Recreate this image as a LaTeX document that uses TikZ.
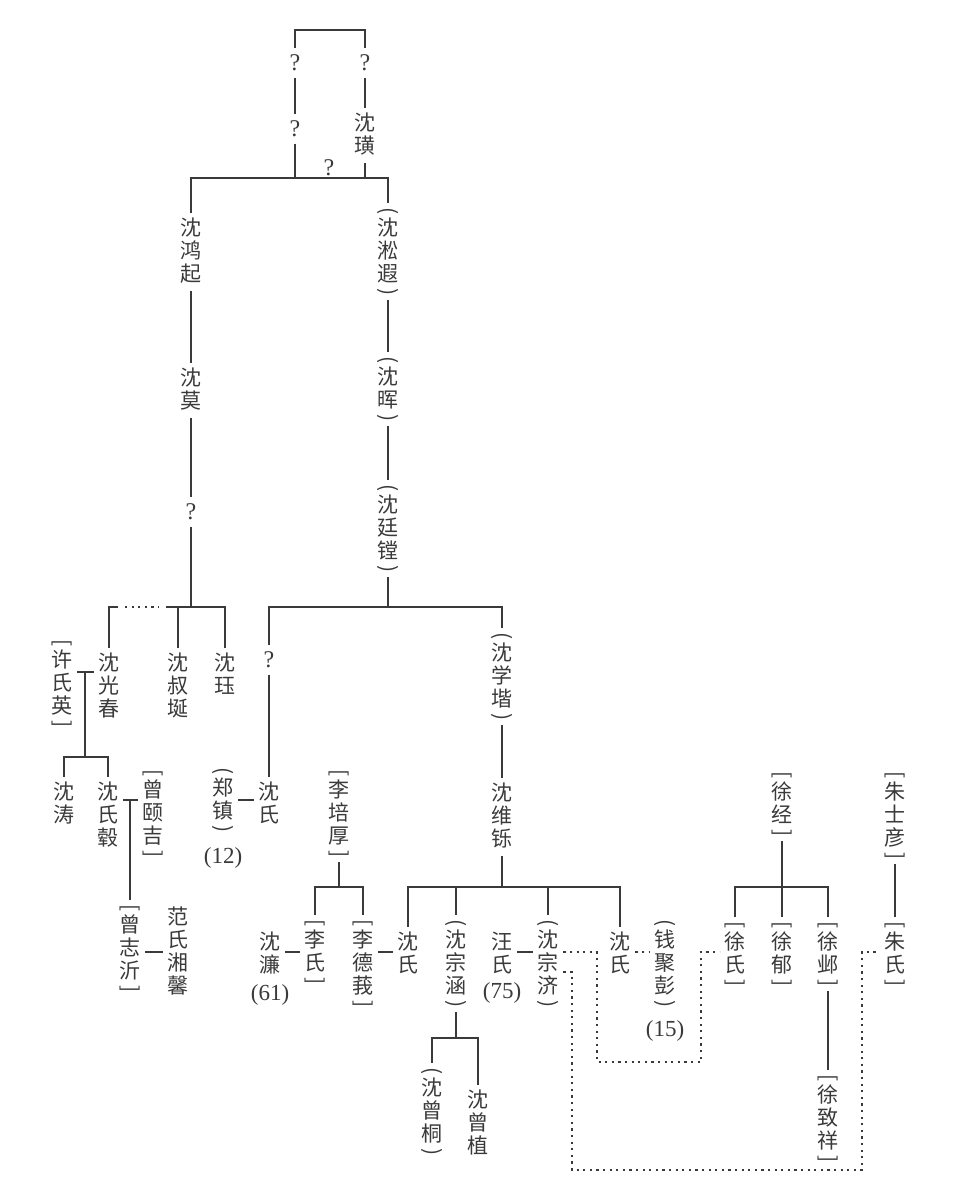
\documentclass[tikz,border=0pt]{standalone}
\usepackage{fontspec}
\setmainfont{Liberation Serif}
\newfontfamily\cjk{Noto Sans CJK SC}
\usetikzlibrary{positioning}
\definecolor{ink}{RGB}{58,58,58}
% vertical names: one box per character
\newcommand\vc[1]{\hbox to 11pt{\hss\vrule height 9pt depth 2.5pt width 0pt\relax#1\hss}}
\def\vloop#1{\ifx#1\relax\else\vc{#1}\expandafter\vloop\fi}
\newcommand\vmark[1]{\hbox to 11pt{\hss\rotatebox{-90}{#1}\hss}}
\newcommand\vname[1]{\vbox{\offinterlineskip\vloop#1\relax}}
\newcommand\pname[1]{\vbox{\offinterlineskip\vmark{(}\kern1.5pt\vloop#1\relax\kern1pt\vmark{)}}}
\newcommand\bname[1]{\vbox{\offinterlineskip\vmark{[}\kern1.5pt\vloop#1\relax\kern1pt\vmark{]}}}
\tikzset{
  person/.style={anchor=north, inner sep=2pt, text=ink, font=\cjk\fontsize{10.5}{11.5}\selectfont},
  qm/.style={inner sep=3pt, text=ink, font=\fontsize{12}{13}\selectfont},
  num/.style={inner sep=1pt, text=ink, font=\fontsize{11.5}{12}\selectfont},
  link/.style={draw=ink, line width=0.75pt},
  dots/.style={draw=ink, line width=1.1pt, dash pattern=on 1.1pt off 2.2pt}
}
\begin{document}
\begin{tikzpicture}[x=0.5pt, y=-0.5pt]
    \useasboundingbox (0,0) rectangle (968,1197);
    % top generations
    \node[qm] (qa) at (295,63) {?};
    \node[qm] (qb) at (295,129) {?};
    \node[qm] (qc) at (365,63) {?};
    \node[person] (huang) at (365,108) {\vname{沈璜}};
    \node[qm] (qd) at (329,168) {?};
    \coordinate (apex) at (330,30);
    \coordinate (bar1) at (290,178);
    \path[link] (qa.north) |- (apex) -| (qc.north);
    \path[link] (qa) -- (qb) (qc) -- (huang);
    \node[person] (hongqi) at (191,213) {\vname{沈鸿起}};
    \node[person] (songxia) at (388,203) {\pname{沈淞遐}};
    \path[link] (hongqi.north) |- (bar1) -| (songxia.north);
    \path[link] (qb.south) -- (qb.south |- bar1)
          (huang.south) -- (huang.south |- bar1);

    % left line
    \node[person] (mo) at (191,363) {\vname{沈莫}};
    \node[qm] (qe) at (191,512) {?};
    \path[link] (hongqi) -- (mo) (mo) -- (qe);
    \coordinate (b2l) at (109,607);
    \coordinate (b2r) at (225,607);
    \node[person] (guangchun) at (109,648) {\vname{沈光春}};
    \node[person] (shuyan) at (178,648) {\vname{沈叔埏}};
    \node[person] (jue) at (225,648) {\vname{沈珏}};
    \path[link] (qe.south) -- (qe.south |- b2r)
          (guangchun.north) -- (b2l) -- ([xshift=4.5pt]b2l)
          ([xshift=28.5pt]b2l) -- (b2r) -- (jue.north)
          (shuyan.north) -- (shuyan.north |- b2r);
    \path[dots] ([xshift=8pt]b2l) -- ([xshift=25pt]b2l);
    \node[person] (xushiying) at (62,635) {\bname{许氏英}};
    \coordinate (wed1) at (85,672);
    \coordinate (bar3) at (85,757);
    \path[link] (xushiying.east |- wed1) -- (guangchun.west |- wed1)
          (wed1) -- (bar3);
    \node[person] (tao) at (64,777) {\vname{沈涛}};
    \node[person] (shigu) at (108,777) {\vname{沈氏毂}};
    \path[link] (tao.north) |- (bar3) -| (shigu.north);
    \node[person] (yiji) at (153,765) {\bname{曾颐吉}};
    \coordinate (wed2) at (130,800);
    \node[person] (zhiyi) at (130,900) {\bname{曾志沂}};
    \node[person] (xiangxin) at (178,902) {\vname{范氏湘馨}};
    \coordinate (wed3) at (130,952);
    \path[link] (shigu.east |- wed2) -- (yiji.west |- wed2)
          (wed2) -- (zhiyi.north)
          (zhiyi.east |- wed3) -- (xiangxin.west |- wed3);

    % right line
    \node[person] (hui) at (388,352) {\pname{沈晖}};
    \node[person] (tinghuang) at (388,480) {\pname{沈廷镗}};
    \path[link] (songxia) -- (hui) (hui) -- (tinghuang);
    \coordinate (bar4) at (388,607);
    \node[qm] (qf) at (269,660) {?};
    \node[person] (xuejie) at (502,628) {\pname{沈学堦}};
    \path[link] (tinghuang.south) -- (bar4)
          (qf.north) |- (bar4) -| (xuejie.north);
    \node[person] (shenshi1) at (269,777) {\vname{沈氏}};
    \node[person] (zhengzhen) at (223,763) {\pname{郑镇}};
    \node[num] (n12) [below=4pt of zhengzhen] {(12)};
    \path[link] (qf) -- (shenshi1)
          (zhengzhen.east) -- (zhengzhen.east -| shenshi1.west);

    \node[person] (weishuo) at (502,778) {\vname{沈维铄}};
    \coordinate (bar5) at (502,887);
    \coordinate (wedrow) at (0,952);
    \coordinate (wedlow) at (0,972);
    \node[person] (shenshi2) at (408,927) {\vname{沈氏}};
    \node[person] (zonghan) at (456,915) {\pname{沈宗涵}};
    \node[person] (wangshi) at (502,927) {\vname{汪氏}};
    \node[num] (n75) [below=-1pt of wangshi] {(75)};
    \node[person] (zongji) at (548,915) {\pname{沈宗济}};
    \node[person] (shenshi3) at (620,927) {\vname{沈氏}};
    \node[person] (qian) at (665,915) {\pname{钱聚彭}};
    \node[num] (n15) [below=3pt of qian] {(15)};
    \path[link] (xuejie) -- (weishuo)
          (weishuo.south) -- (bar5)
          (shenshi2.north) |- (bar5) -| (shenshi3.north)
          (zonghan.north) -- (zonghan.north |- bar5)
          (zongji.north) -- (zongji.north |- bar5)
          (wangshi.east |- wedrow) -- (zongji.west |- wedrow);
    \path[dots] (shenshi3.east |- wedrow) -- (qian.west |- wedrow);

    \node[person] (lipeihou) at (339,765) {\bname{李培厚}};
    \coordinate (bar6) at (339,887);
    \node[person] (lishi) at (315,915) {\bname{李氏}};
    \node[person] (lide) at (363,915) {\bname{李德莪}};
    \node[person] (shenlian) at (270,927) {\vname{沈濂}};
    \node[num] (n61) [below=0pt of shenlian] {(61)};
    \path[link] (lipeihou.south) -- (bar6)
          (lishi.north) |- (bar6) -| (lide.north)
          (shenlian.east |- wedrow) -- (lishi.west |- wedrow)
          (lide.east |- wedrow) -- (shenshi2.west |- wedrow);

    \coordinate (bar7) at (456,1038);
    \node[person] (zengtong) at (432,1063) {\pname{沈曾桐}};
    \node[person] (zengzhi) at (478,1085) {\vname{沈曾植}};
    \path[link] (zonghan.south) -- (bar7)
          (zengtong.north) |- (bar7) -| (zengzhi.north);

    % Xu and Zhu families
    \node[person] (xujing) at (782,767) {\bname{徐经}};
    \coordinate (bar8) at (782,887);
    \node[person] (xushi) at (735,917) {\bname{徐氏}};
    \node[person] (xuyu) at (782,917) {\bname{徐郁}};
    \node[person] (xuye) at (828,917) {\bname{徐邺}};
    \node[person] (xuzhixiang) at (828,1070) {\bname{徐致祥}};
    \node[person] (zhushiyan) at (895,767) {\bname{朱士彦}};
    \node[person] (zhushi) at (895,917) {\bname{朱氏}};
    \path[link] (xujing.south) -- (bar8)
          (xushi.north) |- (bar8) -| (xuye.north)
          (xuyu.north) -- (xuyu.north |- bar8)
          (xuye) -- (xuzhixiang)
          (zhushiyan) -- (zhushi);

    % dotted ties
    \coordinate (lp1) at (597,1062);
    \coordinate (lp2) at (701,1062);
    \coordinate (lp3) at (572,1170);
    \coordinate (lp4) at (862,1170);
    \path[dots] (zongji.east |- wedrow) -| (lp1) -- (lp2) |- (xushi.west |- wedrow);
    \path[dots] (zongji.east |- wedlow) -| (lp3) -- (lp4) |- (zhushi.west |- wedrow);
\end{tikzpicture}
\end{document}
